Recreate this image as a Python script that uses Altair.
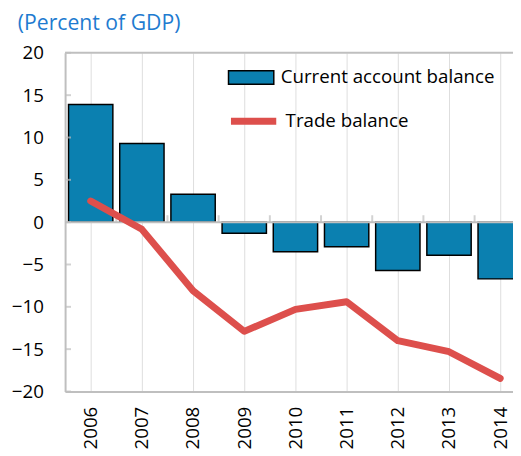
import altair as alt
import pandas as pd

years = [2006, 2007, 2008, 2009, 2010, 2011, 2012, 2013, 2014]
current_account = [13.9, 9.3, 3.3, -1.3, -3.5, -2.9, -5.7, -3.9, -6.7]
trade_balance = [2.5, -0.85, -8.1, -12.9, -10.3, -9.4, -14.0, -15.3, -18.45]
y_ticks = [-20, -15, -10, -5, 0, 5, 10, 15, 20]
ref_lines = [0, 20]

F = "Open Sans"
GRAY = "#BFBFBF"
BLUE = "#0B80B0"
RED = "#DD4F4C"

df = pd.DataFrame({
    "year": years,
    "ca": current_account,
    "tb": trade_balance,
    "s1": "Current account balance",
    "s2": "Trade balance",
})
refs = pd.DataFrame({"v": ref_lines})
# category boundaries (between years) for the tick marks on the zero line
bounds_df = pd.DataFrame({"b": [y - 0.5 for y in years], "z": 0})
yticks_df = pd.DataFrame({"v": y_ticks})

xscale = alt.Scale(domain=[2005.5, 2014.25], nice=False, zero=False)
yscale = alt.Scale(domain=[-20, 20], nice=False, zero=False)

bars = alt.Chart(df).transform_calculate(
    x0="datum.year - 0.433", x1="datum.year + 0.433", base="0"
).mark_bar(stroke="black", strokeWidth=1.5, clip=True).encode(
    x=alt.X("x0:Q", scale=xscale,
            axis=alt.Axis(orient="bottom", title=None, labelAngle=-90, ticks=False,
                          values=years, format="d",
                          domainColor=GRAY, domainWidth=2, labelPadding=15,
                          labelFontSize=19, labelFont=F, labelColor="black")),
    x2="x1:Q",
    y=alt.Y("ca:Q", scale=yscale,
            axis=alt.Axis(orient="left", values=y_ticks, title=None, ticks=False,
                          domainColor=GRAY, domainWidth=2, labelPadding=22, grid=False,
                          labelFontSize=19, labelFont=F, labelColor="black")),
    y2="base:Q",
    fill=alt.Fill("s1:N", scale=alt.Scale(domain=["Current account balance"], range=[BLUE]),
                  legend=alt.Legend(title=None, orient="none", legendX=165, legendY=1,
                                    symbolType="M-1,-0.3H1V0.3H-1Z", symbolSize=2116,
                                    symbolStrokeColor="black", symbolStrokeWidth=1.5,
                                    labelFontSize=19, labelFont=F, labelColor="black",
                                    labelOffset=6, labelLimit=400, padding=0)),
)

rules = alt.Chart(refs).mark_rule(color=GRAY, strokeWidth=2).encode(
    y=alt.Y("v:Q", scale=yscale, axis=None)
)

zero_ticks = alt.Chart(bounds_df).mark_tick(
    orient="vertical", size=7, thickness=2, yOffset=-3.5, color=GRAY, clip=True
).encode(
    x=alt.X("b:Q", scale=xscale, axis=None),
    y=alt.Y("z:Q", scale=yscale, axis=None),
)

inner_yticks = alt.Chart(yticks_df).mark_tick(
    orient="horizontal", size=6, thickness=2, color=GRAY
).encode(
    x=alt.value(3),
    y=alt.Y("v:Q", scale=yscale, axis=None),
)

line = alt.Chart(df).mark_line(strokeWidth=7, strokeCap="round", strokeJoin="round").encode(
    x=alt.X("year:Q", scale=xscale, axis=None),
    y=alt.Y("tb:Q", scale=yscale, axis=None),
    stroke=alt.Stroke("s2:N", scale=alt.Scale(domain=["Trade balance"], range=[RED]),
                      legend=alt.Legend(title=None, orient="none", legendX=165, legendY=43,
                                        symbolType="stroke", symbolSize=2116,
                                        symbolStrokeWidth=7,
                                        labelFontSize=19, labelFont=F, labelColor="black",
                                        labelOffset=6, labelLimit=400, padding=0)),
)

chart = alt.layer(bars, rules, zero_ticks, inner_yticks, line).resolve_axis(
    x="independent", y="independent"
).properties(
    width=455,
    height=344,
    autosize=alt.AutoSizeParams(type="none"),
    padding={"left": 58, "top": 42, "right": 0, "bottom": 62},
    title=alt.Title("(Percent of GDP)", anchor="start", frame="group", dx=-48,
                    color="#1E7BD0", fontSize=21.5, font=F, fontWeight="normal", offset=10),
).configure_view(stroke=None)

chart.save("out.html", embed_options={"renderer": "svg", "actions": False})
